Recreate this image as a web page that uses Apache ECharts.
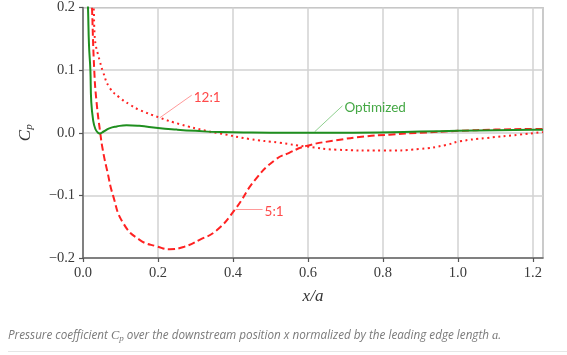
<!DOCTYPE html>
<html>
<head>
<meta charset="utf-8">
<script src="https://cdn.jsdelivr.net/npm/echarts@6/dist/echarts.min.js"></script>
<style>
html,body{margin:0;padding:0;background:#fff;}
#chart{width:567px;height:355px;}
</style>
</head>
<body>
<div id="chart"></div>
<script>
// ---- data (x/a, Cp) ----
const optimized = [
  [0.010, 0.25], [0.0133, 0.20], [0.016, 0.14], [0.0197, 0.10], [0.022, 0.05],
  [0.027, 0.02], [0.033, 0.006], [0.040, 0.000], [0.045, -0.001], [0.055, 0.002],
  [0.070, 0.007], [0.090, 0.010], [0.116, 0.012], [0.150, 0.011], [0.200, 0.0075],
  [0.250, 0.005], [0.300, 0.003], [0.365, 0.001], [0.450, 0.0002], [0.550, 0.0],
  [0.650, 0.0], [0.790, 0.0005], [0.900, 0.0018], [1.000, 0.003], [1.100, 0.004],
  [1.200, 0.0046], [1.227, 0.0047]
];
const ratio5 = [
  [0.021, 0.25], [0.024, 0.20], [0.030, 0.10], [0.036, 0.05], [0.046, 0.0],
  [0.053, -0.028], [0.065, -0.062], [0.080, -0.100], [0.107, -0.144], [0.151, -0.171],
  [0.200, -0.182], [0.231, -0.186], [0.270, -0.182], [0.311, -0.171], [0.356, -0.156],
  [0.406, -0.122], [0.458, -0.076], [0.511, -0.044], [0.550, -0.032], [0.596, -0.021],
  [0.676, -0.012], [0.750, -0.006], [0.818, -0.003], [0.900, 0.0], [1.000, 0.003],
  [1.100, 0.005], [1.200, 0.006], [1.227, 0.006]
];
const ratio12 = [
  [0.024, 0.26], [0.0285, 0.20], [0.031, 0.156], [0.034, 0.140], [0.040, 0.125],
  [0.045, 0.114], [0.053, 0.098], [0.071, 0.072], [0.098, 0.056], [0.125, 0.045],
  [0.147, 0.0375], [0.205, 0.024], [0.258, 0.0138], [0.329, 0.003], [0.365, -0.001],
  [0.444, -0.010], [0.524, -0.016], [0.596, -0.022], [0.676, -0.027], [0.800, -0.0285],
  [0.898, -0.026], [0.969, -0.0195], [1.004, -0.0138], [1.076, -0.0084], [1.165, -0.003],
  [1.218, 0.0005], [1.227, 0.001]
];
const xTicks = [0, 0.2, 0.4, 0.6, 0.8, 1.0, 1.2];
const yTicks = [-0.2, -0.1, 0.0, 0.1, 0.2];
const xRange = [0, 1.227];
const yRange = [-0.2, 0.2];
// annotations: label text, leader start (on curve), leader end (label anchor)
const annotText = ['12:1', 'Optimized', '5:1'];
const annotFrom = [[0.205, 0.024], [0.618, 0.0016], [0.407, -0.122]];
const annotTo = [[0.290, 0.060], [0.692, 0.043], [0.479, -0.122]];

const RED = '#ff2222';
const GREEN = '#1f8f1f';
const fmt = v => (v < -1e-9 ? '\u2212' : '') + Math.abs(v).toFixed(1);

function annot(i, lineColor, textColor) {
  return {
    markLine: {
      silent: true, symbol: ['none', 'none'], animation: false,
      lineStyle: { color: lineColor, width: 1, type: 'solid' },
      label: { show: false },
      emphasis: { disabled: true },
      data: [[{ coord: annotFrom[i] }, { coord: annotTo[i] }]]
    },
    markPoint: {
      silent: true, symbol: 'circle', symbolSize: 0, animation: false,
      label: {
        show: true, position: 'right', distance: 2, offset: [0, 2],
        formatter: annotText[i], color: textColor,
        fontFamily: 'Lato', fontSize: 13.5
      },
      data: [{ coord: annotTo[i] }]
    }
  };
}

const chart = echarts.init(document.getElementById('chart'), null, { renderer: 'canvas' });
chart.setOption({
  animation: false,
  backgroundColor: '#fff',
  grid: { left: 83, right: 24, top: 5, bottom: 97, show: true, borderColor: '#a8a8a8', borderWidth: 1.2, backgroundColor: 'transparent' },
  xAxis: {
    type: 'value', min: xRange[0], max: xRange[1],
    name: 'x/a', nameLocation: 'middle', nameGap: 30,
    nameTextStyle: { fontFamily: 'Liberation Serif', fontStyle: 'italic', fontSize: 17, color: '#333' },
    axisLine: { show: true, onZero: false, lineStyle: { color: '#666', width: 1.5 } },
    axisTick: { show: true, length: 4, customValues: xTicks, lineStyle: { color: '#555', width: 1.2 } },
    axisLabel: { customValues: xTicks, formatter: fmt, margin: 8, fontFamily: 'Liberation Serif', fontSize: 14.5, color: '#3a3a3a' },
    splitLine: { show: true, lineStyle: { color: '#d2d2d2', width: 1.5 } }
  },
  yAxis: {
    type: 'value', min: yRange[0], max: yRange[1], interval: 0.1,
    name: '{c|C}{p|p}', nameLocation: 'middle', nameGap: 48, nameRotate: 90,
    nameTextStyle: {
      rich: {
        c: { fontFamily: 'Liberation Serif', fontStyle: 'italic', fontSize: 17, color: '#333' },
        p: { fontFamily: 'Liberation Serif', fontStyle: 'italic', fontSize: 11, color: '#333', padding: [8, 0, 0, 0] }
      }
    },
    axisLine: { show: true, onZero: false, lineStyle: { color: '#666', width: 1.5 } },
    axisTick: { show: true, length: 4, customValues: yTicks, lineStyle: { color: '#555', width: 1.2 } },
    axisLabel: { customValues: yTicks, formatter: fmt, margin: 8, fontFamily: 'Liberation Serif', fontSize: 14.5, color: '#3a3a3a' },
    splitLine: { show: true, lineStyle: { color: '#d2d2d2', width: 1.5 } }
  },
  graphic: [
    {
      type: 'text', left: 8, top: 329, silent: true,
      style: {
        text: '{t|Pressure coefficient }{m|C}{s|p}{t| over the downstream position x normalized by the leading edge length }{m|a}{t|.}',
        rich: {
          t: { fontFamily: 'Open Sans', fontStyle: 'italic', fontSize: 11.7, fill: '#7a7a7a' },
          m: { fontFamily: 'Liberation Serif', fontStyle: 'italic', fontSize: 12.5, fill: '#7a7a7a' },
          s: { fontFamily: 'Liberation Serif', fontStyle: 'italic', fontSize: 9, fill: '#7a7a7a', padding: [6, 0, 0, 0] }
        }
      }
    },
    { type: 'rect', left: 8, top: 351, silent: true, shape: { width: 559, height: 1 }, style: { fill: '#e6e6e6' } }
  ],
  series: [
    Object.assign({
      name: '12:1', type: 'line', data: ratio12, showSymbol: false, symbol: 'none',
      smooth: 0.5, clip: true, z: 3,
      lineStyle: { color: RED, width: 2, type: [2, 3.5] }
    }, annot(0, '#ff9a9a', '#ff4a4a')),
    Object.assign({
      name: '5:1', type: 'line', data: ratio5, showSymbol: false, symbol: 'none',
      smooth: 0.5, clip: true, z: 4,
      lineStyle: { color: RED, width: 2, type: [7, 3.5] }
    }, annot(2, '#ff9a9a', '#ff4a4a')),
    Object.assign({
      name: 'Optimized', type: 'line', data: optimized, showSymbol: false, symbol: 'none',
      smooth: 0.5, clip: true, z: 5,
      lineStyle: { color: GREEN, width: 2 }
    }, annot(1, '#8fd08f', '#45a845'))
  ]
});
</script>
</body>
</html>
